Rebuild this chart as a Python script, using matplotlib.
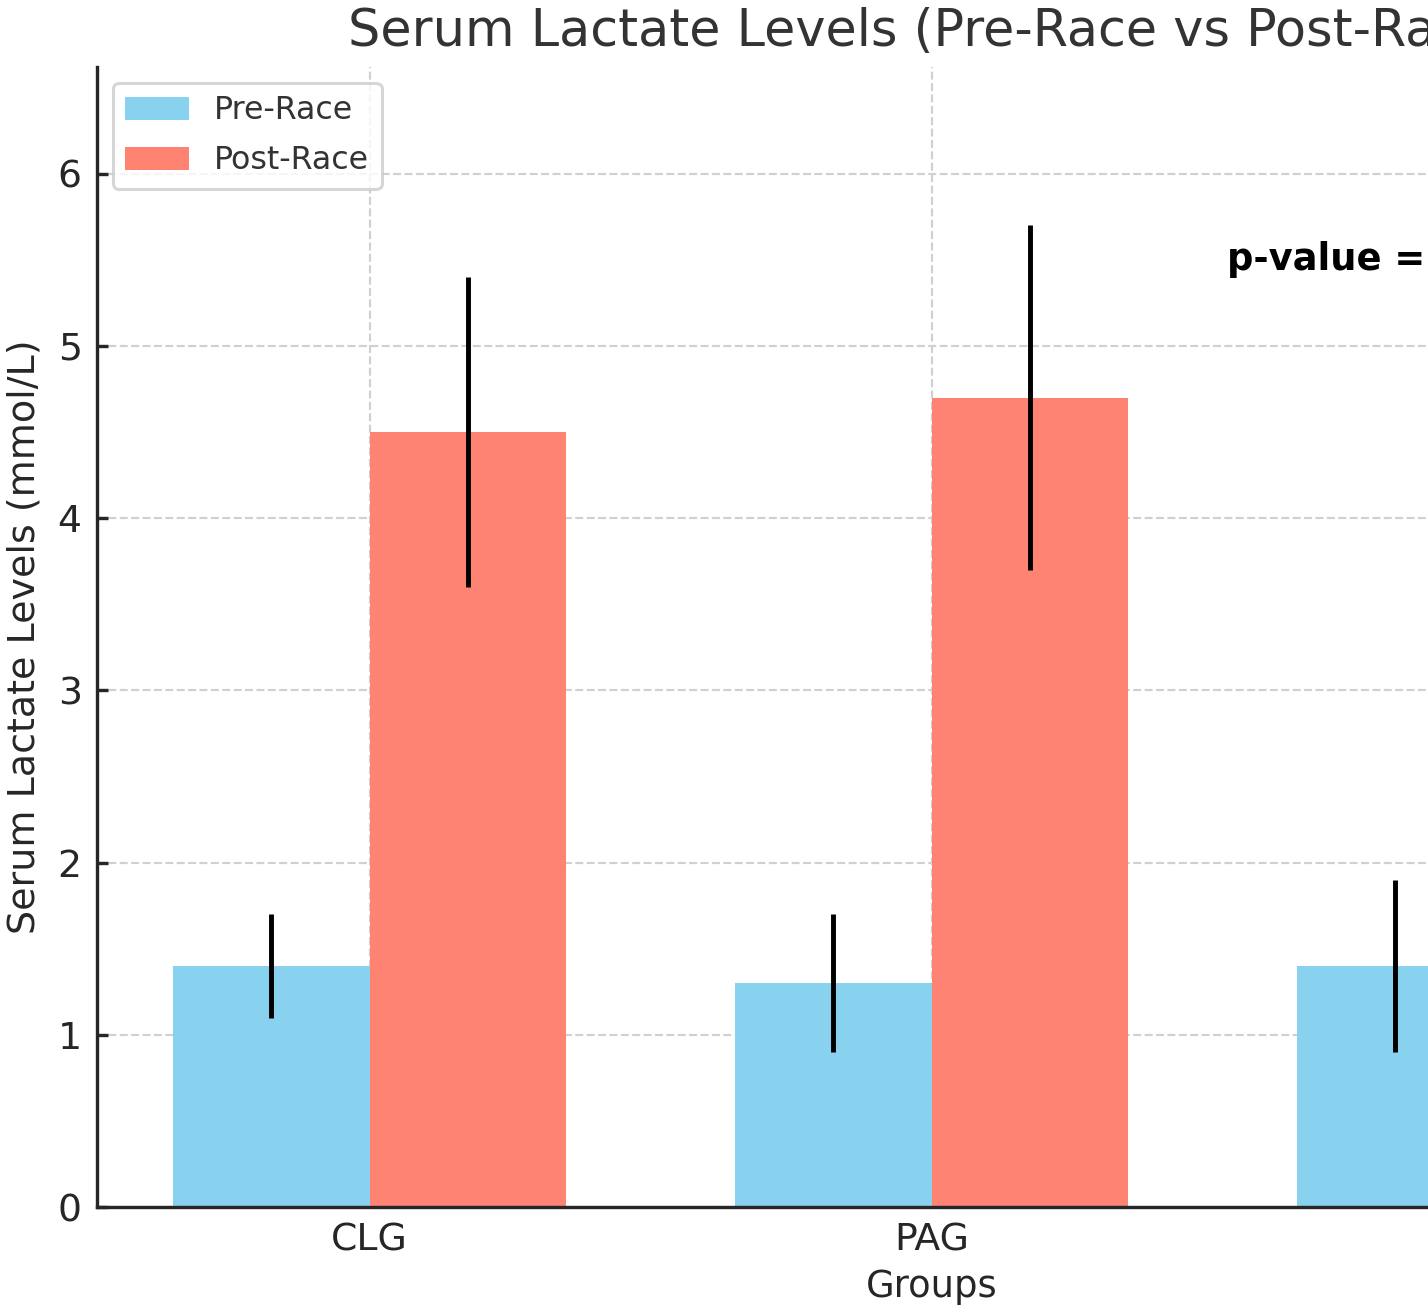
import numpy as np
import matplotlib
matplotlib.use("Agg")
import matplotlib.pyplot as plt

# valores (el tercer grupo queda casi todo fuera del recorte)
groups = ["CLG", "PAG", "ELG"]
pre_race = [1.4, 1.3, 1.4]
pre_err = [0.3, 0.4, 0.5]
post_race = [4.5, 4.7, 5.2]
post_err = [0.9, 1.0, 1.1]
p_text = "p-value = 0.001"

DPI = 221
fig = plt.figure(figsize=(1428 / DPI, 1308 / DPI), dpi=DPI)
# el eje se sale por la derecha, igual que en la imagen recortada
ax = fig.add_axes([97 / 1428, 101 / 1308, 1669 / 1428, 1140 / 1308])

x = np.arange(len(groups))
width = 0.35

ax.bar(x - width / 2, pre_race, width, yerr=pre_err, color="#89d2ef",
       label="Pre-Race", error_kw=dict(ecolor="black", elinewidth=1.6, capsize=0))
ax.bar(x + width / 2, post_race, width, yerr=post_err, color="#fe8373",
       label="Post-Race", error_kw=dict(ecolor="black", elinewidth=1.6, capsize=0))

ax.set_xticks(x)
ax.set_xticklabels(groups)
ax.set_ylim(0, 6.62)
ax.set_xlabel("Groups", fontsize=12, color="#262626", labelpad=3)
ax.set_ylabel("Serum Lactate Levels (mmol/L)", fontsize=12.4, color="#262626", labelpad=5)
ax.set_title("Serum Lactate Levels (Pre-Race vs Post-Race)", fontsize=16.6,
             color="#333333", pad=7)
ax.tick_params(labelsize=12.3, colors="#262626", width=1.1, length=3.5,
               direction="in", pad=5)

ax.text(1.525, 5.5, p_text, fontsize=12, fontweight="bold", ha="left", va="center")

ax.grid(True, linestyle="--", color="#d0d0d0", linewidth=0.7)
ax.set_axisbelow(True)
for s in ["top", "right"]:
    ax.spines[s].set_visible(False)
for s in ["left", "bottom"]:
    ax.spines[s].set_linewidth(1.1)
    ax.spines[s].set_color("#262626")

leg = ax.legend(loc="upper left", fontsize=10.3, framealpha=0.8, labelspacing=0.6,
                handlelength=2.0, handleheight=0.75)
for t in leg.get_texts():
    t.set_color("#333333")

fig.savefig("out.png", dpi=DPI)
